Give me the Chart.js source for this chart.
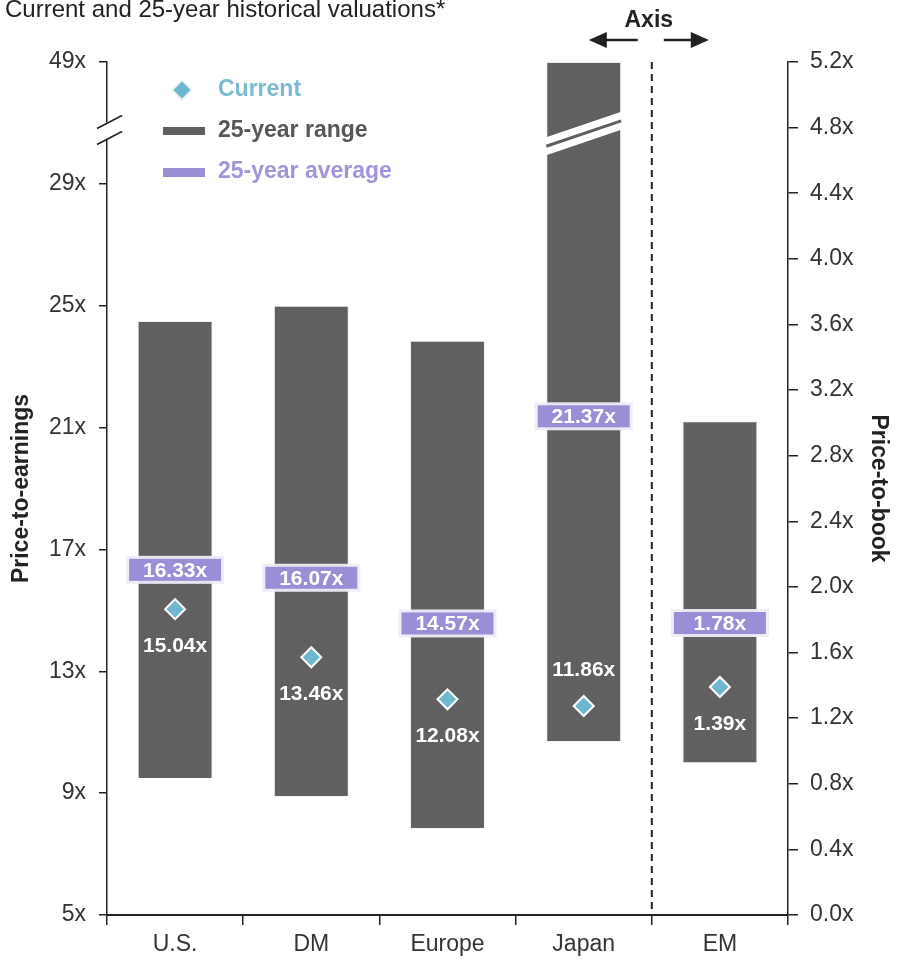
<!DOCTYPE html>
<html>
<head>
<meta charset="utf-8">
<script src="https://cdn.jsdelivr.net/npm/chart.js@4/dist/chart.umd.min.js"></script>
<style>
  html, body { margin: 0; padding: 0; background: #ffffff; }
  #wrap { width: 898px; height: 965px; position: relative; }
</style>
</head>
<body>
<div id="wrap"><canvas id="c" width="898" height="965"></canvas></div>
<script>
// Regions and their valuation figures
const categories = ['U.S.', 'DM', 'Europe', 'Japan', 'EM'];
const rangeLow   = [9.5, 8.9, 7.85, 10.7, 0.93];
const rangeHigh  = [24.5, 25.0, 23.85, 49.0, 3.01];
const average    = [16.33, 16.07, 14.57, 21.37, 1.78];
const current    = [15.04, 13.46, 12.08, 11.86, 1.39];
const valuationAxis = ['pe', 'pe', 'pe', 'pe', 'pb'];
const peTicks = [5, 9, 13, 17, 21, 25, 29, 49];
const pbTicks = [0, 0.4, 0.8, 1.2, 1.6, 2.0, 2.4, 2.8, 3.2, 3.6, 4.0, 4.4, 4.8, 5.2];

// The P/E axis is broken above 29x: 29x..49x is squeezed into one tick step
const BREAK_FROM = 29, BREAK_TO = 49, BREAK_STEP = 4;
const toPE = v => v <= BREAK_FROM ? v : BREAK_FROM + (v - BREAK_FROM) * BREAK_STEP / (BREAK_TO - BREAK_FROM);
const fromPE = d => d <= BREAK_FROM ? d : BREAK_FROM + (d - BREAK_FROM) * (BREAK_TO - BREAK_FROM) / BREAK_STEP;

const FONT = '"Liberation Sans", Arial, sans-serif';
const BAR_GREY = '#606060';
const AVG_PURPLE = '#9b8ed6';
const CUR_BLUE = '#6db7cf';

const peRange = categories.map((_, i) => valuationAxis[i] === 'pe' ? [toPE(rangeLow[i]), toPE(rangeHigh[i])] : null);
const pbRange = categories.map((_, i) => valuationAxis[i] === 'pb' ? [rangeLow[i], rangeHigh[i]] : null);
const peCurrent = categories.map((_, i) => valuationAxis[i] === 'pe' ? toPE(current[i]) : null);
const pbCurrent = categories.map((_, i) => valuationAxis[i] === 'pb' ? current[i] : null);

const fmt = v => v.toFixed(2) + 'x';

const overlay = {
  id: 'valuationOverlay',
  afterDatasetsDraw(chart) {
    const ctx = chart.ctx;
    const x = chart.scales.x;
    // 25-year average tags
    categories.forEach((_, i) => {
      const scale = valuationAxis[i] === 'pe' ? chart.scales.y : chart.scales.y2;
      const v = valuationAxis[i] === 'pe' ? toPE(average[i]) : average[i];
      const cx = x.getPixelForValue(i);
      const cy = scale.getPixelForValue(v);
      const w = 92, h = 22;
      ctx.save();
      ctx.fillStyle = 'rgba(238,236,248,0.95)';
      ctx.fillRect(cx - w / 2 - 3, cy - h / 2 - 3, w + 6, h + 6);
      ctx.fillStyle = AVG_PURPLE;
      ctx.fillRect(cx - w / 2, cy - h / 2, w, h);
      ctx.fillStyle = '#ffffff';
      ctx.font = 'bold 21px ' + FONT;
      ctx.textAlign = 'center';
      ctx.textBaseline = 'middle';
      ctx.fillText(fmt(average[i]), cx, cy + 1);
      ctx.restore();
    });
    // current value labels beside the diamonds
    categories.forEach((_, i) => {
      const meta = chart.getDatasetMeta(valuationAxis[i] === 'pe' ? 2 : 3);
      const pt = meta.data[i];
      const above = categories[i] === 'Japan';
      ctx.save();
      ctx.fillStyle = '#ffffff';
      ctx.font = 'bold 21px ' + FONT;
      ctx.textAlign = 'center';
      ctx.textBaseline = 'middle';
      ctx.fillText(fmt(current[i]), pt.x, pt.y + (above ? -36 : 37));
      ctx.restore();
    });
  },
  afterDraw(chart) {
    const ctx = chart.ctx;
    const area = chart.chartArea;
    const x = chart.scales.x;
    const y = chart.scales.y;
    const yb = y.getPixelForValue(30.75);

    // break through the tall Japan bar
    const jIdx = categories.indexOf('Japan');
    const bar = chart.getDatasetMeta(0).data[jIdx];
    const half = bar.width / 2 + 3;
    const slope = -0.34;
    const yc = xx => yb + 3 + slope * (xx - bar.x);
    ctx.save();
    ctx.fillStyle = '#ffffff';
    ctx.beginPath();
    ctx.moveTo(bar.x - half, yc(bar.x - half) - 9);
    ctx.lineTo(bar.x + half, yc(bar.x + half) - 9);
    ctx.lineTo(bar.x + half, yc(bar.x + half) + 9);
    ctx.lineTo(bar.x - half, yc(bar.x - half) + 9);
    ctx.closePath();
    ctx.fill();
    ctx.strokeStyle = BAR_GREY;
    ctx.lineWidth = 3;
    ctx.beginPath();
    ctx.moveTo(bar.x - bar.width / 2, yc(bar.x - bar.width / 2));
    ctx.lineTo(bar.x + bar.width / 2, yc(bar.x + bar.width / 2));
    ctx.stroke();
    ctx.restore();

    // break marks on the P/E axis
    const ax = area.left;
    ctx.save();
    ctx.fillStyle = '#ffffff';
    ctx.fillRect(ax - 3, yb - 8, 6, 17);
    ctx.strokeStyle = '#222';
    ctx.lineWidth = 1.6;
    [-8, 8].forEach(off => {
      ctx.beginPath();
      ctx.moveTo(ax - 10, yb + off + 6);
      ctx.lineTo(ax + 15, yb + off - 7);
      ctx.stroke();
    });
    ctx.restore();

    // divider between the two axes
    const divX = (x.getPixelForValue(3) + x.getPixelForValue(4)) / 2;
    ctx.save();
    ctx.strokeStyle = '#222';
    ctx.lineWidth = 2;
    ctx.setLineDash([7, 5]);
    ctx.beginPath();
    ctx.moveTo(divX, area.top);
    ctx.lineTo(divX, area.bottom);
    ctx.stroke();
    ctx.restore();

    // "Axis" marker with arrows
    ctx.save();
    ctx.fillStyle = '#222';
    ctx.strokeStyle = '#222';
    ctx.font = 'bold 23px ' + FONT;
    ctx.textAlign = 'center';
    ctx.textBaseline = 'middle';
    ctx.fillText('Axis', divX - 3, 21);
    ctx.lineWidth = 2.5;
    const ay = 40;
    const arrow = (from, to) => {
      const dir = Math.sign(to - from);
      ctx.beginPath();
      ctx.moveTo(from, ay);
      ctx.lineTo(to - dir * 14, ay);
      ctx.stroke();
      ctx.beginPath();
      ctx.moveTo(to, ay);
      ctx.lineTo(to - dir * 18, ay - 8);
      ctx.lineTo(to - dir * 18, ay + 8);
      ctx.closePath();
      ctx.fill();
    };
    arrow(divX - 14, divX - 63);
    arrow(divX + 12, divX + 57);
    ctx.restore();

    // legend
    const lx = area.left;
    const ly = area.top;
    ctx.save();
    ctx.font = 'bold 23px ' + FONT;
    ctx.textBaseline = 'middle';
    ctx.textAlign = 'left';
    // current
    ctx.beginPath();
    ctx.moveTo(lx + 75, ly + 18);
    ctx.lineTo(lx + 85, ly + 28);
    ctx.lineTo(lx + 75, ly + 38);
    ctx.lineTo(lx + 65, ly + 28);
    ctx.closePath();
    ctx.fillStyle = CUR_BLUE;
    ctx.fill();
    ctx.strokeStyle = '#f2f2f2';
    ctx.lineWidth = 2;
    ctx.stroke();
    ctx.fillStyle = '#7bbad0';
    ctx.fillText('Current', lx + 111, ly + 28);
    // range
    ctx.fillStyle = BAR_GREY;
    ctx.fillRect(lx + 56, ly + 65, 42, 8);
    ctx.fillStyle = '#575757';
    ctx.fillText('25-year range', lx + 111, ly + 69);
    // average
    ctx.fillStyle = AVG_PURPLE;
    ctx.fillRect(lx + 56, ly + 106, 42, 9);
    ctx.fillStyle = '#a394da';
    ctx.fillText('25-year average', lx + 111, ly + 110);
    ctx.restore();

    // heading
    ctx.save();
    ctx.fillStyle = '#222';
    ctx.font = '24px ' + FONT;
    ctx.textAlign = 'left';
    ctx.textBaseline = 'alphabetic';
    ctx.fillText('Current and 25-year historical valuations*', 5, 17);
    ctx.restore();
  }
};

const tickFont = { family: FONT, size: 23 };

new Chart(document.getElementById('c'), {
  data: {
    labels: categories,
    datasets: [
      {
        type: 'bar', label: '25-year range', data: peRange, yAxisID: 'y',
        backgroundColor: BAR_GREY, borderColor: '#efefef', borderWidth: 1,
        grouped: false, categoryPercentage: 1, barPercentage: 0.55, order: 2
      },
      {
        type: 'bar', label: '25-year range (P/B)', data: pbRange, yAxisID: 'y2',
        backgroundColor: BAR_GREY, borderColor: '#efefef', borderWidth: 1,
        grouped: false, categoryPercentage: 1, barPercentage: 0.55, order: 2
      },
      {
        type: 'line', label: 'Current', data: peCurrent, yAxisID: 'y', showLine: false,
        pointStyle: 'rectRot', pointRadius: 10, pointBackgroundColor: CUR_BLUE,
        pointBorderColor: '#ffffff', pointBorderWidth: 2, order: 1
      },
      {
        type: 'line', label: 'Current (P/B)', data: pbCurrent, yAxisID: 'y2', showLine: false,
        pointStyle: 'rectRot', pointRadius: 10, pointBackgroundColor: CUR_BLUE,
        pointBorderColor: '#ffffff', pointBorderWidth: 2, order: 1
      }
    ]
  },
  options: {
    responsive: false,
    animation: false,
    devicePixelRatio: 1,
    layout: { padding: { top: 62, left: 0, right: 0, bottom: 0 } },
    plugins: { legend: { display: false }, tooltip: { enabled: false } },
    scales: {
      x: {
        type: 'category',
        offset: true,
        grid: { offset: true, drawOnChartArea: false, drawTicks: true, tickLength: 10, color: '#222', lineWidth: 1.5 },
        border: { display: true, color: '#222', width: 2 },
        ticks: { font: tickFont, color: '#333', padding: 6, maxRotation: 0 },
        afterFit(s) { s.height = 50; }
      },
      y: {
        position: 'left',
        min: 5,
        max: toPE(BREAK_TO),
        afterBuildTicks(s) { s.ticks = peTicks.map(v => ({ value: toPE(v) })); },
        ticks: {
          font: tickFont, color: '#333', padding: 13,
          callback: v => Math.round(fromPE(v)) + 'x'
        },
        grid: { drawOnChartArea: false, drawTicks: true, tickLength: 8, color: '#222', lineWidth: 1.5 },
        border: { display: true, color: '#222', width: 1.5 },
        title: {
          display: true, text: 'Price-to-earnings', color: '#222',
          font: { family: FONT, size: 23, weight: 'bold' }, padding: { top: 8, bottom: 0 }
        },
        afterFit(s) { s.width = 107; }
      },
      y2: {
        position: 'right',
        min: 0,
        max: 5.2,
        afterBuildTicks(s) { s.ticks = pbTicks.map(v => ({ value: v })); },
        ticks: {
          font: tickFont, color: '#333', padding: 12,
          callback: v => v.toFixed(1) + 'x'
        },
        grid: { drawOnChartArea: false, drawTicks: true, tickLength: 10, color: '#222', lineWidth: 1.5 },
        border: { display: true, color: '#222', width: 1.5 },
        title: {
          display: true, text: 'Price-to-book', color: '#222',
          font: { family: FONT, size: 23, weight: 'bold' }, padding: { top: 6, bottom: 0 }
        },
        afterFit(s) { s.width = 110; }
      }
    }
  },
  plugins: [overlay]
});
</script>
</body>
</html>
